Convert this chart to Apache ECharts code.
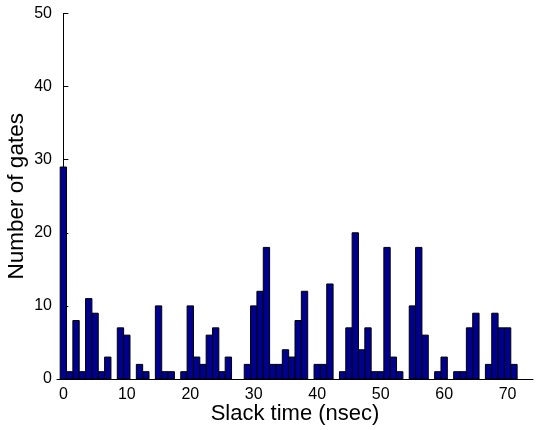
<!DOCTYPE html>
<html>
<head>
<meta charset="utf-8">
<script src="https://cdn.jsdelivr.net/npm/echarts@6/dist/echarts.min.js"></script>
<style>
  html, body { margin: 0; padding: 0; background: #fff; }
  #chart { width: 537px; height: 430px; }
</style>
</head>
<body>
<div id="chart"></div>
<script>
// slack time bins (nsec) and gate counts per bin
const slackTimes = [
    0, 1, 2, 3, 4, 5, 6, 7, 8, 9,
    10, 11, 12, 13, 14, 15, 16, 17, 18, 19,
    20, 21, 22, 23, 24, 25, 26, 27, 28, 29,
    30, 31, 32, 33, 34, 35, 36, 37, 38, 39,
    40, 41, 42, 43, 44, 45, 46, 47, 48, 49,
    50, 51, 52, 53, 54, 55, 56, 57, 58, 59,
    60, 61, 62, 63, 64, 65, 66, 67, 68, 69,
    70, 71
];
const gateCounts = [
    29, 1, 8, 1, 11, 9, 1, 3, 0, 7,
    6, 0, 2, 1, 0, 10, 1, 1, 0, 1,
    10, 3, 2, 6, 7, 1, 3, 0, 0, 2,
    10, 12, 18, 2, 2, 4, 3, 8, 12, 0,
    2, 2, 13, 0, 1, 7, 20, 4, 7, 1,
    1, 18, 3, 1, 0, 10, 18, 6, 0, 1,
    3, 0, 1, 1, 7, 9, 0, 2, 9, 7,
    7, 2
];
const xTicks = [0, 10, 20, 30, 40, 50, 60, 70];

const fontFamily = "'Liberation Sans', Arial, Helvetica, sans-serif";
const chart = echarts.init(document.getElementById('chart'));

const options = {
    animation: false,
    grid: { left: 57, right: 4, top: 13.5, bottom: 51, containLabel: false, outerBoundsMode: 'none' },
    xAxis: {
        type: 'value',
        min: -1,
        max: 74,
        name: 'Slack time (nsec)',
        nameLocation: 'middle',
        nameGap: 24,
        nameMoveOverlap: false,
        nameTextStyle: { fontFamily: fontFamily, fontSize: 22, color: '#000' },
        axisLine: { lineStyle: { color: '#000', width: 1 } },
        axisTick: { inside: true, length: 5, customValues: xTicks, lineStyle: { color: '#000' } },
        axisLabel: { customValues: xTicks, margin: 8, fontFamily: fontFamily, fontSize: 16, color: '#000' },
        splitLine: { show: false }
    },
    yAxis: {
        type: 'value',
        min: 0,
        max: 50,
        interval: 10,
        name: 'Number of gates',
        nameLocation: 'middle',
        nameGap: 29,
        nameMoveOverlap: false,
        nameTextStyle: { fontFamily: fontFamily, fontSize: 22.5, color: '#000' },
        axisLine: { show: true, lineStyle: { color: '#000', width: 1 } },
        axisTick: { show: true, inside: true, length: 5, lineStyle: { color: '#000' } },
        axisLabel: { margin: 5, fontFamily: fontFamily, fontSize: 16, color: '#000' },
        splitLine: { show: false }
    },
    series: [{
        type: 'custom',
        data: slackTimes.map((t, i) => [t, gateCounts[i]]),
        encode: { x: 0, y: 1 },
        renderItem: function (params, api) {
            const x = api.value(0);
            const y = api.value(1);
            if (!y) return null;
            const topLeft = api.coord([x - 0.5, y]);
            const bottomRight = api.coord([x + 0.5, 0]);
            return {
                type: 'rect',
                shape: {
                    x: topLeft[0],
                    y: topLeft[1],
                    width: bottomRight[0] - topLeft[0],
                    height: bottomRight[1] - topLeft[1]
                },
                style: { fill: '#00008F', stroke: '#000', lineWidth: 1 }
            };
        }
    }]
};

chart.setOption(options);
</script>
</body>
</html>
